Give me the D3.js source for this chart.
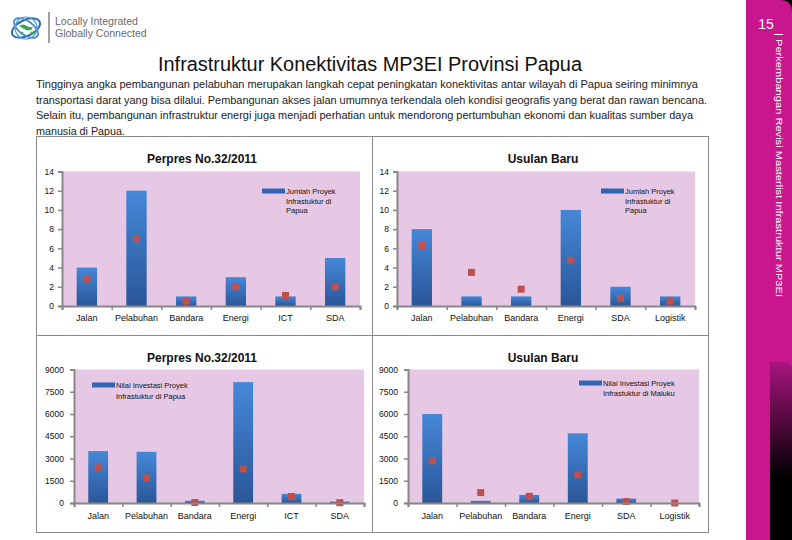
<!DOCTYPE html>
<html><head><meta charset="utf-8">
<script src="https://cdn.jsdelivr.net/npm/d3@7"></script>
<style>body{margin:0;background:#fff}svg{display:block}</style>
</head><body>
<svg id="c" width="792" height="540"></svg>
<script>
// ---------- DATA ----------
const pageTitle = "Infrastruktur Konektivitas MP3EI Provinsi Papua";
const bodyLines = [
  "Tingginya angka pembangunan pelabuhan merupakan langkah cepat peningkatan konektivitas antar wilayah di Papua seiring minimnya",
  "transportasi darat yang bisa dilalui.  Pembangunan akses jalan umumnya terkendala oleh kondisi geografis yang berat dan rawan bencana.",
  "Selain itu, pembangunan infrastruktur energi juga menjadi perhatian untuk mendorong pertumbuhan ekonomi dan kualitas sumber daya",
  "manusia di Papua."
];
const sideText = "| Perkembangan Revisi Masterlist Infrastruktur MP3EI";
const pageNumber = "15";

const catsPerpres = ["Jalan","Pelabuhan","Bandara","Energi","ICT","SDA"];
const catsUsulan  = ["Jalan","Pelabuhan","Bandara","Energi","SDA","Logistik"];

const jumlahPerpres       = [4, 12, 1, 3, 1, 5];
const jumlahPerpresMarker = [2.8, 7, 0.5, 2, 1.1, 2];
const jumlahUsulan        = [8, 1, 1, 10, 2, 1];
const jumlahUsulanMarker  = [6.3, 3.5, 1.75, 4.75, 0.8, 0.5];

const nilaiPerpres        = [3500, 3450, 150, 8150, 620, 100];
const nilaiPerpresMarker  = [2370, 1700, 30, 2300, 440, 20];
const nilaiUsulan         = [6000, 150, 550, 4700, 300, 0];
const nilaiUsulanMarker   = [2850, 700, 450, 1900, 100, 0];

const jumlahTicks      = [0, 2, 4, 6, 8, 10, 12, 14];
const jumlahTickLabels = ["0","2","4","6","8","10","12","14"];
const nilaiTicks       = [0, 1500, 3000, 4500, 6000, 7500, 9000];
const nilaiTickLabels  = ["0","1500","3000","4500","6000","7500","9000"];

const chartTitles = ["Perpres No.32/2011", "Usulan Baru", "Perpres No.32/2011", "Usulan Baru"];
const legendLines = [
  ["Jumlah Proyek", "Infrastuktur di", "Papua"],
  ["Jumlah Proyek", "Infrastuktur di", "Papua"],
  ["Nilai Investasi Proyek", "Infrastuktur di Papua"],
  ["Nilai Investasi Proyek", "Infrastuktur di Maluku"]
];

// ---------- DRAW ----------
const svg = d3.select("#c");
const FONT = "'Liberation Sans', Arial, sans-serif";
const defs = svg.append("defs");
const bg = defs.append("linearGradient").attr("id","barGrad").attr("x1",0).attr("y1",0).attr("x2",0).attr("y2",1);
bg.append("stop").attr("offset","0%").attr("stop-color","#4588d8");
bg.append("stop").attr("offset","100%").attr("stop-color","#2a5698");
const sg = defs.append("linearGradient").attr("id","shadeGrad").attr("x1",0).attr("y1",0).attr("x2",0).attr("y2",1);
sg.append("stop").attr("offset","0%").attr("stop-color","#a8147f");
sg.append("stop").attr("offset","65%").attr("stop-color","#000");
sg.append("stop").attr("offset","100%").attr("stop-color","#000");

// side strip
svg.append("rect").attr("x",778).attr("y",0).attr("width",14).attr("height",14).attr("fill","#000");
svg.append("path").attr("d","M746,0 L780,0 Q792,0 792,12 L792,540 L746,540 Z").attr("fill","#c9168c");
svg.append("path").attr("d","M770,540 L770,362 L784,362 Q792,362 792,370 L792,540 Z").attr("fill","url(#shadeGrad)");
svg.append("text").attr("x",766).attr("y",29).attr("text-anchor","middle")
  .attr("font-family",FONT).attr("font-size",14).attr("fill","#fff").text(pageNumber);
svg.append("text").attr("transform","translate(776,33) rotate(90)")
  .attr("font-family",FONT).attr("font-size",9.5).attr("fill","#fff")
  .attr("textLength",264).attr("lengthAdjust","spacingAndGlyphs").text(sideText);

// logo
const logo = svg.append("g");
logo.append("ellipse").attr("cx",26).attr("cy",28).attr("rx",15).attr("ry",8)
  .attr("transform","rotate(-25,26,28)").attr("fill","none").attr("stroke","#2d6db3").attr("stroke-width",2);
logo.append("ellipse").attr("cx",26).attr("cy",28).attr("rx",14).attr("ry",7)
  .attr("transform","rotate(35,26,28)").attr("fill","none").attr("stroke","#3f86c9").attr("stroke-width",1.6);
logo.append("circle").attr("cx",26).attr("cy",28).attr("r",11).attr("fill","none").attr("stroke","#5aa0d8").attr("stroke-width",1.2);
logo.append("path").attr("d","M19,26 q4,-3 8,0 q3,2 6,1 l-2,3 q-4,1 -7,-1 z").attr("fill","#3aa655");
logo.append("circle").attr("cx",32).attr("cy",33).attr("r",1.6).attr("fill","#3aa655");
logo.append("circle").attr("cx",22).attr("cy",33).attr("r",1.3).attr("fill","#3aa655");
logo.append("line").attr("x1",49).attr("x2",49).attr("y1",12).attr("y2",43).attr("stroke","#666").attr("stroke-width",1.2);
logo.append("text").attr("x",55).attr("y",25).attr("font-family",FONT).attr("font-size",10.5).attr("fill","#6a6a6a").text("Locally Integrated");
logo.append("text").attr("x",55).attr("y",37).attr("font-family",FONT).attr("font-size",10.5).attr("fill","#6a6a6a").text("Globally Connected");

// title
svg.append("text").attr("x",370).attr("y",71).attr("text-anchor","middle")
  .attr("font-family","'Liberation Sans Narrow', 'Arial Narrow', " + FONT).attr("font-size",20).attr("fill","#111")
  .attr("textLength",424).attr("lengthAdjust","spacingAndGlyphs").text(pageTitle);

// body
const bodyWidths = [662, 671, 657, 89];
svg.append("g").selectAll("text").data(bodyLines).join("text")
  .attr("x",36).attr("y",(d,i)=>88 + i*15.7)
  .attr("font-family",FONT).attr("font-size",11).attr("fill","#222")
  .attr("textLength",(d,i)=>bodyWidths[i]).attr("lengthAdjust","spacingAndGlyphs")
  .text(d=>d);

// table borders
const tb = svg.append("g").attr("stroke","#8a8a8a").attr("stroke-width",1).attr("fill","none");
tb.append("rect").attr("x",36.5).attr("y",136.5).attr("width",672).attr("height",396);
tb.append("line").attr("x1",372.5).attr("x2",372.5).attr("y1",136.5).attr("y2",532.5);
tb.append("line").attr("x1",36.5).attr("x2",708.5).attr("y1",335.5).attr("y2",335.5);

function panel(c){
  const g = svg.append("g");
  g.append("rect").attr("x",c.x0).attr("y",c.yT).attr("width",c.x1-c.x0).attr("height",c.yB-c.yT).attr("fill","#e7c8e4");
  const x = d3.scaleBand().domain(c.cats).range([c.x0,c.x1]).paddingInner(0.59).paddingOuter(0.295);
  const y = d3.scaleLinear().domain([0,c.max]).range([c.yB,c.yT]);
  g.append("g").selectAll("rect").data(c.bars).join("rect")
    .attr("x",(d,i)=>x(c.cats[i])).attr("width",x.bandwidth())
    .attr("y",d=>y(d)).attr("height",d=>c.yB-y(d)).attr("fill","url(#barGrad)");
  g.append("g").selectAll("rect").data(c.marks).join("rect")
    .attr("x",(d,i)=>x(c.cats[i])+x.bandwidth()/2-3.5).attr("y",d=>y(d)-3.5)
    .attr("width",7).attr("height",7).attr("fill","#c0504d");
  const ya = g.append("g").attr("transform",`translate(${c.x0},0)`)
    .call(d3.axisLeft(y).tickValues(c.ticks).tickSize(4).tickPadding(c.tp).tickFormat((d,i)=>c.tickLabels[i]));
  const xl = d3.scaleLinear().domain([0,c.cats.length]).range([c.x0,c.x1]);
  const xa = g.append("g").attr("transform",`translate(0,${c.yB})`)
    .call(d3.axisBottom(xl).tickValues(d3.range(c.cats.length+1)).tickSize(4).tickFormat(""));
  [ya,xa].forEach(a=>{
    a.select(".domain").attr("stroke","#878787").attr("stroke-width",2);
    a.selectAll(".tick line").attr("stroke","#878787").attr("stroke-width",1.5);
    a.selectAll("text").attr("font-family",FONT).attr("font-size",8.5).attr("fill","#111");
  });
  const xb = g.append("g").attr("transform",`translate(0,${c.yB})`)
    .call(d3.axisBottom(x).tickSize(0).tickPadding(c.lp));
  xb.select(".domain").remove();
  xb.selectAll("text").attr("font-family",FONT).attr("font-size",9).attr("fill","#111");
  g.append("text").attr("x",c.tx).attr("y",c.ty).attr("text-anchor","middle")
    .attr("font-family",FONT).attr("font-weight","bold").attr("font-size",12).attr("fill","#111").text(c.title);
  g.append("rect").attr("x",c.lx).attr("y",c.ly-2.5).attr("width",23).attr("height",5).attr("fill","#3066b4");
  g.append("g").selectAll("text").data(c.legend).join("text")
    .attr("x",c.lx+24).attr("y",(d,i)=>c.ly+2.8+i*c.lgap)
    .attr("font-family",FONT).attr("font-size",7.5).attr("fill","#111").text(d=>d);
}

panel({cats:catsPerpres, bars:jumlahPerpres, marks:jumlahPerpresMarker, ticks:jumlahTicks, tickLabels:jumlahTickLabels, max:14,
  x0:62, x1:360, yT:171.5, yB:306, tp:4, lp:9, title:chartTitles[0], tx:202, ty:162.5,
  legend:legendLines[0], lx:262, ly:191, lgap:9.8});
panel({cats:catsUsulan, bars:jumlahUsulan, marks:jumlahUsulanMarker, ticks:jumlahTicks, tickLabels:jumlahTickLabels, max:14,
  x0:397, x1:695, yT:171.5, yB:306, tp:4, lp:9, title:chartTitles[1], tx:543, ty:162.5,
  legend:legendLines[1], lx:601, ly:191, lgap:9.8});
panel({cats:catsPerpres, bars:nilaiPerpres, marks:nilaiPerpresMarker, ticks:nilaiTicks, tickLabels:nilaiTickLabels, max:9000,
  x0:74, x1:364, yT:369.5, yB:503, tp:6, lp:10, title:chartTitles[2], tx:202, ty:362,
  legend:legendLines[2], lx:92, ly:385, lgap:10.7});
panel({cats:catsUsulan, bars:nilaiUsulan, marks:nilaiUsulanMarker, ticks:nilaiTicks, tickLabels:nilaiTickLabels, max:9000,
  x0:408, x1:699, yT:369.5, yB:503, tp:6, lp:10, title:chartTitles[3], tx:543, ty:362,
  legend:legendLines[3], lx:579, ly:383, lgap:10});
</script>
</body></html>
